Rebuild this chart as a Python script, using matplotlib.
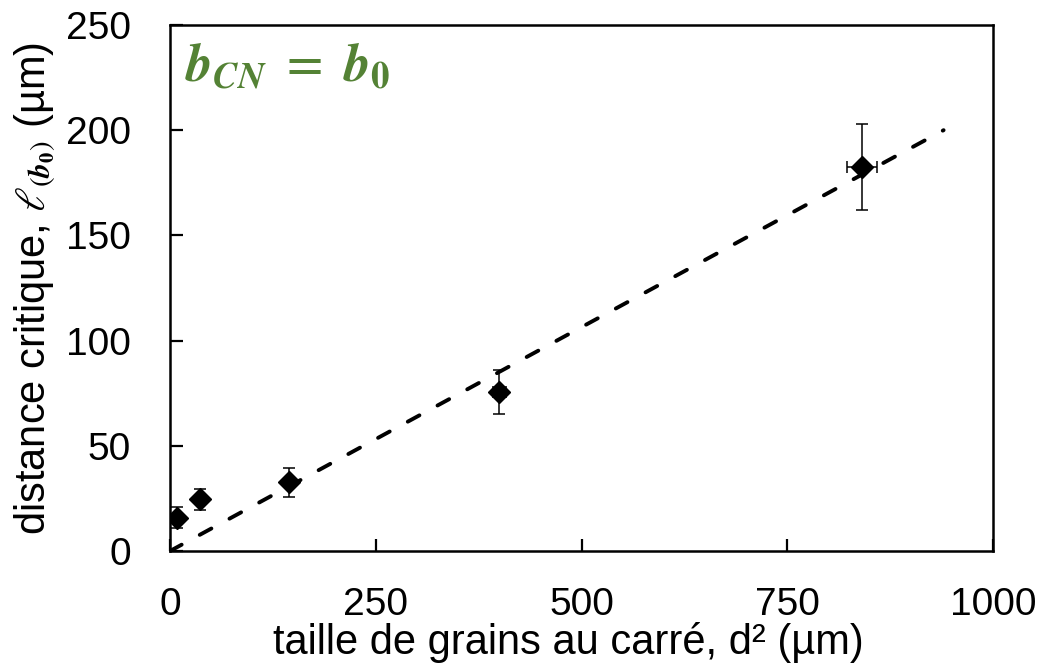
import matplotlib
matplotlib.use("Agg")
import matplotlib.pyplot as plt
import numpy as np

# grain size squared (um^2) and critical distance (um)
d2 = [9, 36, 144, 400, 841]
ell = [15.8, 24.7, 32.6, 75.6, 182.6]
ell_err = [5, 5, 6.7, 10.5, 20.5]
d2_err = [0, 0, 0, 8, 18]

# linear trend through origin
fit_x = [0, 940]
fit_slope = 0.2128

x_ticks = [0, 250, 500, 750, 1000]
y_ticks = [0, 50, 100, 150, 200, 250]


def main():
    plt.rcParams["font.family"] = ["Liberation Sans", "DejaVu Sans"]
    plt.rcParams["mathtext.fontset"] = "stix"

    fig = plt.figure(figsize=(10.47, 6.7), dpi=100)
    ax = fig.add_axes([0.1624, 0.1776, 0.786, 0.785])

    fx = np.array(fit_x)
    ax.plot(fx, fit_slope * fx, color="black", lw=2.8, ls=(0, (3.4, 5.3)),
            dash_capstyle="round", zorder=2)

    ax.errorbar(d2, ell, yerr=ell_err, xerr=d2_err, fmt="D", color="black",
                markersize=11, ecolor="black", elinewidth=1.1, capsize=4,
                capthick=1.1, zorder=3)

    ax.set_xlim(0, 1000)
    ax.set_ylim(0, 250)
    ax.set_xticks(x_ticks)
    ax.set_yticks(y_ticks)
    ax.tick_params(direction="in", length=9, width=1.6, labelsize=28, pad=26)
    ax.tick_params(axis="y", pad=28)
    for s in ax.spines.values():
        s.set_linewidth(1.8)

    ax.set_xlabel("taille de grains au carré, d² (µm)", fontsize=30, labelpad=0)
    ax.xaxis.set_label_coords(0.4836, -0.135)
    ax.set_ylabel(r"distance critique, $\ell_{(\boldsymbol{b}_\mathbf{0})}$ (µm)",
                  fontsize=30, labelpad=6)

    ax.text(0.018, 0.968,
            r"$\boldsymbol{b}_{\boldsymbol{CN}}\ =\ \boldsymbol{b}_\mathbf{0}$",
            transform=ax.transAxes, fontsize=38, color="#548235",
            ha="left", va="top")

    fig.savefig("out.png", dpi=100, facecolor="white")


if __name__ == "__main__":
    main()
